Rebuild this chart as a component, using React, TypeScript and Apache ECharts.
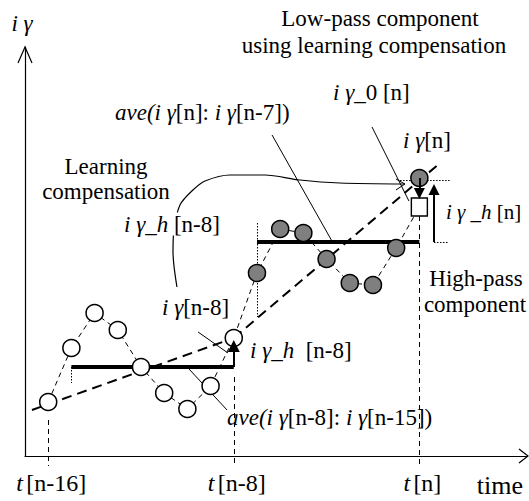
import React, { useEffect, useRef } from "react";
import * as echarts from "echarts";

const SERIF = '"Liberation Serif", "Times New Roman", serif';
const FS = 23;

// time steps: 0 = t[n-16], 8 = t[n-8], 16 = t[n]
const pastSteps = [0, 1, 2, 3, 4, 5, 6, 7, 8];
const pastValues = [5.4, 10.8, 14.3, 12.6, 8.9, 6.3, 4.7, 7.0, 11.8];
const recentSteps = [9, 10, 11, 12, 13, 14, 15, 16];
const recentValues = [18.3, 22.7, 22.3, 19.7, 17.3, 17.1, 20.8, 27.8];
const compensatedStep = 16;
const compensatedValue = 24.9; // i_γ_0[n]
const avePastValue = 8.9; // ave(iγ[n-8]: iγ[n-15])
const avePastSpan = [1, 8];
const aveRecentValue = 21.4; // ave(iγ[n]: iγ[n-7])
const aveRecentSpan = [9, 16];
const trendPast = [[-0.7, 4.6], [8, 11.8]];
const trendRecent = [[8, 11.8], [16.89, 29.3]];
const tickSteps = [0, 8, 16];
const tickLabels = ["[n-16]", "[n-8]", "[n]"];
const learningCurve = [
  [5.55, 16.9], [5.38, 20.4], [5.42, 22.6], [5.68, 25.1], [6.24, 26.6],
  [6.76, 27.5], [7.84, 28.1], [9.34, 28.1], [10.85, 27.6], [12.57, 27.3], [15.38, 27.2],
];
const curveHead = [[14.99, 27.7], [15.38, 27.2], [14.99, 26.6]];
const leaders = [
  [[9.65, 32.1], [12.23, 21.5]],
  [[13.96, 32.9], [15.55, 25.5]],
  [[6.46, 12.4], [7.75, 10.3]],
  [[6.03, 8.8], [7.71, 4.6]],
];
const tickGuides = [
  [[0, 3.6], [0, -1.0]],
  [[8, 7.9], [8, -1.0]],
  [[16, 24.0], [16, -1.0]],
];
const dottedGuides = [
  [[1, 8.9], [1, 7.3]],
  [[9, 23.3], [9, 13.9]],
  [[15.17, 27.6], [17.32, 27.6]],
  [[16.63, 21.4], [17.23, 21.4]],
];
const arrowsA = [[[8, 8.9], [8, 11.0]]];
const arrowsB = [
  [[16, 27.8], [16, 26.25]],
  [[16.63, 21.4], [16.63, 26.65]],
];

function richSet(fs: number): any {
  return {
    it: { fontFamily: SERIF, fontSize: fs, fontStyle: "italic", fill: "#000", color: "#000" },
    rm: { fontFamily: SERIF, fontSize: fs, fill: "#000", color: "#000" },
  };
}

function txt(x: number, y: number, text: string, align = "left", extra: any = {}, fs = FS) {
  return {
    type: "text",
    x,
    y,
    z: 100,
    silent: true,
    style: {
      text,
      rich: richSet(fs),
      fontFamily: SERIF,
      fontSize: fs,
      fill: "#000",
      align,
      textAlign: align,
      verticalAlign: "middle",
      textVerticalAlign: "middle",
      ...extra,
    },
  };
}

function segs(arr: number[][][], lineStyle: any, extra: any = {}) {
  return {
    type: "lines",
    coordinateSystem: "cartesian2d",
    polyline: false,
    clip: false,
    silent: true,
    symbol: "none",
    lineStyle: { color: "#000", opacity: 1, ...lineStyle },
    data: arr.map((c) => ({ coords: c })),
    ...extra,
  };
}

export default function App() {
  const ref = useRef<HTMLDivElement>(null);
  useEffect(() => {
    if (!ref.current) return;
    const chart = echarts.init(ref.current, null, { renderer: "svg" });
    const connector = [
      ...pastSteps.map((s, i) => [s, pastValues[i]]),
      ...recentSteps.slice(0, 7).map((s, i) => [s, recentValues[i]]),
      [compensatedStep, compensatedValue],
    ];
    const option: any = {
      animation: false,
      backgroundColor: "#fff",
      grid: { left: 25, right: 2, top: 47, bottom: 45, containLabel: false },
      xAxis: {
        type: "value",
        min: -1,
        max: 20.64,
        splitLine: { show: false },
        axisTick: { show: false },
        axisLine: { show: true, onZero: false, lineStyle: { color: "#000", width: 1.2 } },
        axisLabel: {
          customValues: tickSteps,
          margin: 15,
          padding: [0, 0, 0, 6],
          formatter: (v: number) => {
            const k = tickSteps.indexOf(v);
            return k < 0 ? "" : `{t|t} {b|${tickLabels[k]}}`;
          },
          rich: {
            t: { fontFamily: SERIF, fontSize: 24, fontStyle: "italic", color: "#000" },
            b: { fontFamily: SERIF, fontSize: 24, color: "#000" },
          },
        },
        name: "time",
        nameLocation: "end",
        nameGap: -4,
        nameTextStyle: {
          fontFamily: SERIF,
          fontSize: 26,
          color: "#000",
          align: "right",
          verticalAlign: "top",
          padding: [16, 0, 0, 0],
        },
      },
      yAxis: {
        type: "value",
        min: 0,
        max: 40.9,
        splitLine: { show: false },
        axisTick: { show: false },
        axisLabel: { show: false },
        axisLine: { show: true, onZero: false, lineStyle: { color: "#000", width: 1.2 } },
        name: "{it|i γ}",
        nameLocation: "end",
        nameGap: 12,
        nameTextStyle: {
          align: "center",
          padding: [0, 6, 0, 0],
          rich: { it: { fontFamily: SERIF, fontSize: FS, fontStyle: "italic", color: "#000" } },
        },
      },
      series: [
        {
          type: "line",
          data: connector,
          symbol: "none",
          silent: true,
          z: 2,
          lineStyle: { color: "#000", width: 1, type: [5, 4] },
        },
        segs([trendPast, trendRecent], { width: 2, type: [10, 6] }, { z: 2 }),
        segs(
          [
            [[avePastSpan[0], avePastValue], [avePastSpan[1], avePastValue]],
            [[aveRecentSpan[0], aveRecentValue], [aveRecentSpan[1], aveRecentValue]],
          ],
          { width: 4, cap: "butt" },
          { z: 3 }
        ),
        segs(tickGuides, { width: 1, type: [5, 4] }, { z: 2 }),
        segs(dottedGuides, { width: 1, type: [1.5, 1.5] }, { z: 2 }),
        segs(leaders, { width: 1 }, { z: 3 }),
        {
          type: "line",
          data: learningCurve,
          symbol: "none",
          smooth: 0.3,
          silent: true,
          clip: false,
          z: 3,
          lineStyle: { color: "#000", width: 1.2 },
        },
        segs([curveHead], { width: 1 }, { polyline: true, z: 3 }),
        {
          type: "scatter",
          data: pastSteps.map((s, i) => [s, pastValues[i]]),
          symbol: "circle",
          symbolSize: 17,
          silent: true,
          z: 5,
          itemStyle: { color: "#fff", borderColor: "#000", borderWidth: 1.5, opacity: 1 },
        },
        {
          type: "scatter",
          data: recentSteps.map((s, i) => [s, recentValues[i]]),
          symbol: "circle",
          symbolSize: 17,
          silent: true,
          z: 5,
          itemStyle: { color: "#7f7f7f", borderColor: "#000", borderWidth: 1.5, opacity: 1 },
        },
        {
          type: "scatter",
          data: [[compensatedStep, compensatedValue]],
          symbol: "rect",
          symbolSize: [16, 18],
          silent: true,
          z: 5,
          itemStyle: { color: "#fff", borderColor: "#000", borderWidth: 1.5, opacity: 1 },
        },
        segs(arrowsA, { width: 2 }, { z: 6, symbol: ["none", "triangle"], symbolSize: [10, 12] }),
        segs(arrowsB, { width: 2 }, { z: 6, symbol: ["none", "triangle"], symbolSize: [10, 11] }),
      ],
      graphic: [
        {
          type: "polyline",
          silent: true,
          z: 50,
          shape: { points: [[18, 63], [25, 47], [32, 63]] },
          style: { stroke: "#000", lineWidth: 1.2, fill: null },
        },
        {
          type: "polyline",
          silent: true,
          z: 50,
          shape: { points: [[519, 449], [528, 456], [519, 463]] },
          style: { stroke: "#000", lineWidth: 1.2, fill: null },
        },
        txt(380, 18, "Low-pass component", "center"),
        txt(374, 45, "using learning compensation", "center"),
        txt(115, 112, "{it|ave(i γ}{rm|[n]: }{it|i γ}{rm|[n-7])}"),
        txt(333, 92, "{it|i γ_}{rm|0 [n]}"),
        txt(403, 140, "{it|i γ}{rm|[n]}"),
        txt(106, 166, "Learning", "center"),
        txt(106, 191, "compensation", "center"),
        txt(123, 224, "{it|i γ_h }{rm|[n-8]}", "left", { backgroundColor: "#fff", padding: [0, 1] }),
        txt(162, 307, "{it|i γ}{rm|[n-8]}"),
        txt(250, 350, "{it|i γ_h}{rm|  [n-8]}"),
        txt(227, 417, "{it|ave(i γ}{rm|[n-8]: }{it|i γ}{rm|[n-15])}"),
        txt(446, 212, "{it|i γ _h }{rm|[n]}", "left", {}, 21),
        txt(476, 278, "High-pass", "center"),
        txt(475, 304, "component", "center"),
      ],
    };
    chart.setOption(option);
    return () => chart.dispose();
  }, []);
  return (
    <div
      ref={ref}
      style={{ position: "fixed", left: 0, top: 0, width: 529, height: 501, background: "#fff" }}
    />
  );
}
